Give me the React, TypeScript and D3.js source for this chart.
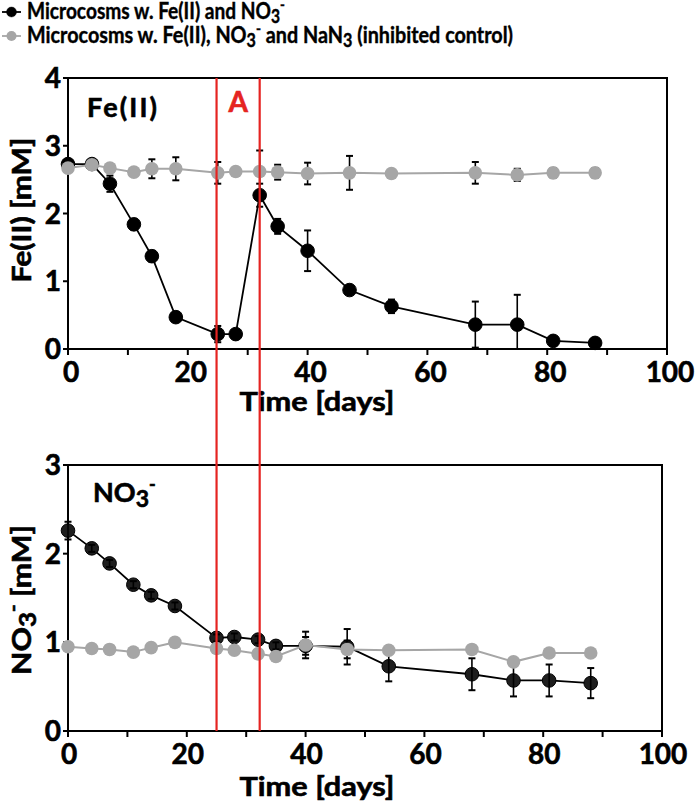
import React from "react";
import * as d3 from "d3";

const days = [0, 4, 7, 11, 14, 18, 25, 28, 32, 35, 40, 47, 54, 68, 75, 81, 88];

const feBlack = [2.73, 2.73, 2.44, 1.84, 1.37, 0.47, 0.22, 0.22, 2.27, 1.81, 1.45, 0.87, 0.63, 0.36, 0.36, 0.12, 0.09];
const feBlackErr = [0.03, 0.03, 0.12, 0.08, 0.08, 0.03, 0.12, 0.03, 0.17, 0.11, 0.3, 0.03, 0.1, 0.34, 0.44, 0.02, 0.02];
const feGray = [2.67, 2.72, 2.67, 2.61, 2.66, 2.66, 2.6, 2.62, 2.62, 2.61, 2.59, 2.6, 2.59, 2.6, 2.57, 2.6, 2.6];
const feGrayErr = [0.02, 0.02, 0.03, 0.03, 0.14, 0.17, 0.16, 0.02, 0.31, 0.11, 0.16, 0.25, 0.02, 0.16, 0.09, 0.07, 0.07];

const noBlack = [2.26, 2.06, 1.89, 1.65, 1.53, 1.41, 1.05, 1.06, 1.03, 0.96, 0.96, 0.95, 0.73, 0.64, 0.57, 0.57, 0.54];
const noBlackErr = [0.1, 0.04, 0.04, 0.04, 0.04, 0.04, 0.04, 0.04, 0.04, 0.04, 0.1, 0.2, 0.17, 0.18, 0.18, 0.18, 0.17];
const noGray = [0.95, 0.93, 0.92, 0.89, 0.94, 1.0, 0.93, 0.91, 0.87, 0.84, 0.97, 0.92, 0.91, 0.92, 0.78, 0.88, 0.88];
const noGrayErr = [0.02, 0.02, 0.02, 0.02, 0.02, 0.02, 0.02, 0.02, 0.02, 0.02, 0.15, 0.1, 0.02, 0.02, 0.02, 0.02, 0.02];

const xTicks = [0, 10, 20, 30, 40, 50, 60, 70, 80, 90, 100];
const xTickLabels = [0, 20, 40, 60, 80, 100];
const feYTicks = [0, 1, 2, 3, 4];
const noYTicks = [0, 1, 2, 3];
const markerDays = [24.8, 32];

const FONT = "Lato, 'Open Sans', sans-serif";
const GRAY = "#a6a6a6";
const RED = "#e52421";
const HEAVY = { stroke: "#000", strokeWidth: 0.6 };

type PanelProps = {
  x: d3.ScaleLinear<number, number>;
  y: d3.ScaleLinear<number, number>;
  yTicks: number[];
  black: number[];
  blackErr: number[];
  gray: number[];
  grayErr: number[];
  blackFill: string;
  barsOnTop: boolean;
  labelShift: number;
};

function ErrorBars({ x, y, vals, errs, color }: { x: any; y: any; vals: number[]; errs: number[]; color: string }) {
  return (
    <g stroke={color} strokeWidth={1.6}>
      {vals.map((v, i) => {
        const cx = x(days[i]);
        const y1 = y(Math.max(0, v - errs[i]));
        const y2 = y(v + errs[i]);
        return (
          <g key={i}>
            <line x1={cx} x2={cx} y1={y1} y2={y2} />
            <line x1={cx - 3.5} x2={cx + 3.5} y1={y1} y2={y1} strokeWidth={2} />
            <line x1={cx - 3.5} x2={cx + 3.5} y1={y2} y2={y2} strokeWidth={2} />
          </g>
        );
      })}
    </g>
  );
}

function Panel({ x, y, yTicks, black, blackErr, gray, grayErr, blackFill, barsOnTop, labelShift }: PanelProps) {
  const [x0, x1] = x.range();
  const [yb, yt] = y.range();
  const lineB = d3.line<number>().x((_, i) => x(days[i])).y((d) => y(d));
  return (
    <g>
      <rect x={x0} y={yt} width={x1 - x0} height={yb - yt} fill="none" stroke="#000" strokeWidth={2} />
      {xTicks.map((t) => (
        <line key={t} x1={x(t)} x2={x(t)} y1={yb} y2={yb + 6} stroke="#000" strokeWidth={2} />
      ))}
      {xTickLabels.map((t) => (
        <text key={t} x={x(t) + labelShift} y={yb + 33} textAnchor="middle" fontSize={28} fontWeight={700} fontFamily={FONT} {...HEAVY}>
          {t}
        </text>
      ))}
      {yTicks.map((t) => (
        <g key={t}>
          <line x1={x0 - 5} x2={x0} y1={y(t)} y2={y(t)} stroke="#000" strokeWidth={2} />
          <text x={x0 - 7} y={y(t) + 10} textAnchor="end" fontSize={28} fontWeight={700} fontFamily={FONT} {...HEAVY}>
            {t}
          </text>
        </g>
      ))}
      <path d={lineB(black) || ""} fill="none" stroke="#000" strokeWidth={1.8} />
      {!barsOnTop && <ErrorBars x={x} y={y} vals={black} errs={blackErr} color="#000" />}
      {black.map((v, i) => (
        <circle key={i} cx={x(days[i])} cy={y(v)} r={6.8} fill={blackFill} stroke="#000" strokeWidth={1} />
      ))}
      {barsOnTop && <ErrorBars x={x} y={y} vals={black} errs={blackErr} color="#000" />}
      <path d={lineB(gray) || ""} fill="none" stroke={GRAY} strokeWidth={2} />
      <ErrorBars x={x} y={y} vals={gray} errs={grayErr} color="#000" />
      {gray.map((v, i) => (
        <circle key={i} cx={x(days[i])} cy={y(v)} r={6.8} fill={GRAY} />
      ))}
    </g>
  );
}

export default function App() {
  const xTop = d3.scaleLinear().domain([0, 100]).range([68, 667]);
  const yTop = d3.scaleLinear().domain([0, 4]).range([349, 78]);
  const xBot = d3.scaleLinear().domain([0, 100]).range([68, 662]);
  const yBot = d3.scaleLinear().domain([0, 3]).range([731, 465]);

  return (
    <svg width={700} height={806} style={{ position: "absolute", left: 0, top: 0, background: "#fff" }}>
      <rect x={0} y={0} width={700} height={806} fill="#fff" />
      {/* legend */}
      <g fontFamily={FONT} fontWeight={700} fontSize={22} stroke="#000" strokeWidth={0.4}>
        <line x1={2} x2={21} y1={12} y2={12} stroke="#000" strokeWidth={1.8} />
        <circle cx={11.5} cy={12} r={5} fill="#000" />
        <text x={27} y={19} textLength={258} lengthAdjust="spacingAndGlyphs">
          Microcosms w. Fe(II) and NO<tspan dy={4} fontSize={18}>3</tspan>
          <tspan dy={-13} fontSize={15}>-</tspan>
        </text>
        <line x1={2} x2={21} y1={36} y2={36} stroke={GRAY} strokeWidth={1.8} />
        <circle cx={11.5} cy={36} r={5} fill={GRAY} stroke="none" />
        <text x={27} y={43} textLength={486} lengthAdjust="spacingAndGlyphs">
          Microcosms w. Fe(II), NO<tspan dy={4} fontSize={18}>3</tspan>
          <tspan dy={-13} fontSize={15}>-</tspan>
          <tspan dy={9}> and NaN</tspan>
          <tspan dy={4} fontSize={18}>3</tspan>
          <tspan dy={-4}> (inhibited control)</tspan>
        </text>
      </g>

      <Panel x={xTop} y={yTop} yTicks={feYTicks} black={feBlack} blackErr={feBlackErr} gray={feGray} grayErr={feGrayErr} blackFill="#000" barsOnTop={false} labelShift={3} />
      <Panel x={xBot} y={yBot} yTicks={noYTicks} black={noBlack} blackErr={noBlackErr} gray={noGray} grayErr={noGrayErr} blackFill="#1e1e1e" barsOnTop={true} labelShift={1} />

      {/* panel labels */}
      <text x={87} y={117} fontSize={27} fontWeight={700} fontFamily={FONT} textLength={70} lengthAdjust="spacing" {...HEAVY}>Fe(II)</text>
      <text x={93} y={502} fontSize={27} fontWeight={700} fontFamily={FONT} {...HEAVY}>
        NO<tspan dy={5} fontSize={23}>3</tspan>
        <tspan dy={-16} fontSize={18}>-</tspan>
      </text>

      {/* axis titles */}
      <text x={317} y={411} textAnchor="middle" fontSize={27} fontWeight={700} fontFamily={FONT} textLength={155} lengthAdjust="spacingAndGlyphs" {...HEAVY}>Time [days]</text>
      <text x={317} y={796} textAnchor="middle" fontSize={27} fontWeight={700} fontFamily={FONT} textLength={155} lengthAdjust="spacingAndGlyphs" {...HEAVY}>Time [days]</text>
      <text transform="translate(31,210) rotate(-90)" textAnchor="middle" fontSize={27} fontWeight={700} fontFamily={FONT} textLength={145} lengthAdjust="spacingAndGlyphs" {...HEAVY}>Fe(II) [mM]</text>
      <text transform="translate(31,600) rotate(-90)" textAnchor="middle" fontSize={27} fontWeight={700} fontFamily={FONT} textLength={150} lengthAdjust="spacingAndGlyphs" {...HEAVY}>
        NO<tspan dy={5} fontSize={23}>3</tspan>
        <tspan dy={-16} fontSize={18}>-</tspan>
        <tspan dy={11}>{"  [mM]"}</tspan>
      </text>

      {/* red markers */}
      {markerDays.map((d) => (
        <line key={d} x1={xTop(d)} x2={xTop(d)} y1={78} y2={731} stroke={RED} strokeWidth={2.2} />
      ))}
      <text x={(xTop(markerDays[0]) + xTop(markerDays[1])) / 2} y={112} textAnchor="middle" fontSize={28} fontWeight={700} fill={RED} stroke={RED} strokeWidth={0.6} fontFamily={FONT}>A</text>
    </svg>
  );
}
